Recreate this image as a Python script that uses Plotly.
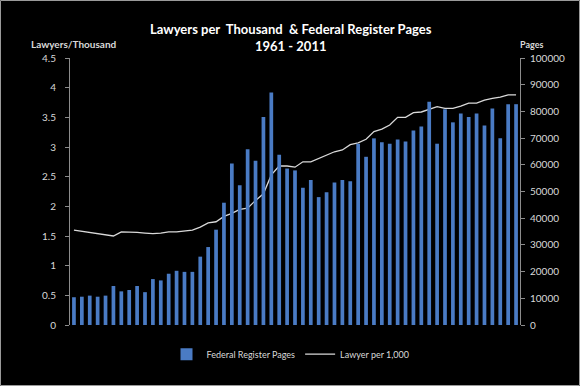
import plotly.graph_objects as go

years = list(range(1955, 2012))
pages = [10.4, 10.6, 11.0, 10.6, 11.0, 14.6, 12.6, 13.1, 14.6, 12.3,
         17.2, 16.7, 19.2, 20.3, 19.9, 19.9, 25.6, 29.2, 35.7, 45.8,
         60.5, 52.3, 65.8, 61.5, 77.9, 87.1, 63.8, 58.6, 57.9, 51.4,
         54.3, 47.9, 49.7, 53.4, 54.3, 53.8, 67.9, 63.0, 69.9, 68.4,
         67.9, 69.5, 68.7, 72.8, 74.3, 83.6, 67.9, 80.8, 75.9, 79.2,
         77.9, 79.2, 74.7, 81.1, 69.9, 82.7, 82.7]
pages = [p * 1000 for p in pages]
lawyers = [1.60, 1.58, 1.56, 1.54, 1.52, 1.50, 1.57, 1.57, 1.56, 1.55,
           1.54, 1.55, 1.57, 1.57, 1.59, 1.60, 1.65, 1.72, 1.74, 1.83,
           1.88, 1.95, 1.97, 2.10, 2.21, 2.53, 2.68, 2.68, 2.66, 2.75,
           2.75, 2.81, 2.87, 2.92, 2.95, 3.04, 3.07, 3.13, 3.26, 3.30,
           3.37, 3.50, 3.50, 3.58, 3.59, 3.64, 3.68, 3.65, 3.65, 3.69,
           3.74, 3.74, 3.79, 3.82, 3.84, 3.88, 3.88]

left_ticks = [0, 0.5, 1, 1.5, 2, 2.5, 3, 3.5, 4, 4.5]
left_labels = ["0", "0.5", "1", "1.5", "2", "2.5", "3", "3.5", "4", "4.5"]
right_ticks = list(range(0, 100001, 10000))
right_labels = [str(v) for v in right_ticks]

W, H = 580, 386
L, R, T, B = 70, 60, 58, 61
pw, ph = W - L - R, H - T - B

fnt = "Lato, 'Open Sans', sans-serif"
txt = "#d9d9d9"

fig = go.Figure()
fig.add_trace(go.Bar(x=years, y=pages, name="Federal Register Pages",
                     marker=dict(color="#4a7bc4", line=dict(width=0)),
                     yaxis="y2"))
fig.add_trace(go.Scatter(x=years, y=lawyers, name="Lawyer per 1,000",
                         mode="lines", line=dict(color="#d9d9d9", width=1.3),
                         yaxis="y"))

fig.update_layout(
    width=W, height=H,
    margin=dict(l=L, r=R, t=T, b=B),
    paper_bgcolor="black", plot_bgcolor="black",
    font=dict(family=fnt, color=txt, size=10),
    bargap=0.53,
    showlegend=True,
    legend=dict(orientation="h", x=0.49, xanchor="center", y=-0.055,
                yanchor="top", font=dict(size=9, color=txt),
                bgcolor="rgba(0,0,0,0)"),
    xaxis=dict(showticklabels=False, showgrid=False, zeroline=False,
               showline=False, ticks="", range=[1954.5, 2011.5]),
    yaxis=dict(range=[0, 4.5], tickvals=left_ticks, ticktext=left_labels,
               showgrid=False, zeroline=False, showline=True,
               linecolor="#8c8c8c", linewidth=1, ticks="outside",
               ticklen=4, tickcolor="#8c8c8c", ticklabelstandoff=7,
               tickfont=dict(size=10, color=txt)),
    yaxis2=dict(range=[0, 100000], tickvals=right_ticks, ticktext=right_labels,
                overlaying="y", side="right", showgrid=False, zeroline=False,
                showline=True, linecolor="#8c8c8c", linewidth=1,
                ticks="outside", ticklen=4, tickcolor="#8c8c8c",
                ticklabelstandoff=3, tickfont=dict(size=10, color=txt)),
    annotations=[
        dict(text="<b>Lawyers per  Thousand  & Federal Register Pages</b>",
             xref="paper", yref="paper", x=(291 - L) / pw, y=(H - B - 29) / ph,
             xanchor="center", yanchor="middle", showarrow=False,
             font=dict(size=13, color="white", family=fnt)),
        dict(text="<b>1961 - 2011</b>",
             xref="paper", yref="paper", x=(291 - L) / pw, y=(H - B - 46) / ph,
             xanchor="center", yanchor="middle", showarrow=False,
             font=dict(size=13, color="white", family=fnt)),
        dict(text="<b>Lawyers/Thousand</b>",
             xref="paper", yref="paper", x=(73.5 - L) / pw, y=(H - B - 44) / ph,
             xanchor="center", yanchor="middle", showarrow=False,
             font=dict(size=10, color=txt, family=fnt)),
        dict(text="<b>Pages</b>",
             xref="paper", yref="paper", x=(531 - L) / pw, y=(H - B - 44) / ph,
             xanchor="center", yanchor="middle", showarrow=False,
             font=dict(size=9, color=txt, family=fnt)),
    ],
    shapes=[dict(type="rect", xref="paper", yref="paper",
                 x0=(0.5 - L) / pw, x1=(W - 0.5 - L) / pw,
                 y0=-(B - 0.5) / ph,
                 y1=1 + (T - 0.5) / ph,
                 line=dict(color="#9a9a9a", width=1), layer="below")],
)

fig.write_html("out.html",
               config={"displayModeBar": False},
               post_script="document.body.style.margin='0';document.body.style.overflow='hidden';")
